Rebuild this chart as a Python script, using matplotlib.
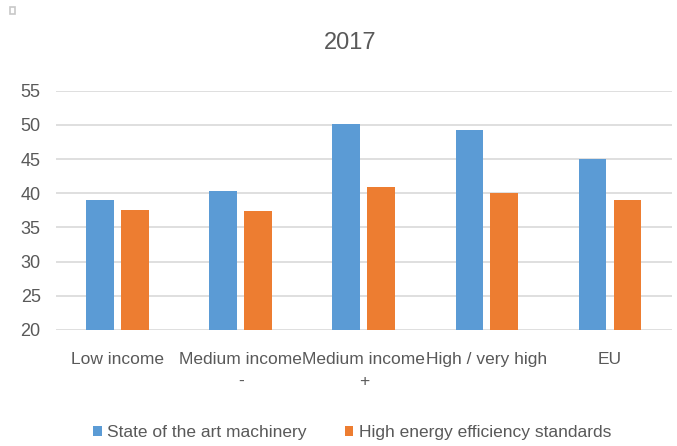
import numpy as np
from matplotlib import pyplot as plt
from matplotlib.patches import Rectangle

categories = ["Low income", "Medium income\n-", "Medium income\n+", "High / very high", "EU"]
state_of_art = [39.0, 40.4, 50.1, 49.3, 45.0]
energy_eff = [37.6, 37.4, 40.9, 40.0, 39.0]
series_names = ["State of the art machinery", "High energy efficiency standards"]
y_ticks = [20, 25, 30, 35, 40, 45, 50, 55]

BLUE = "#5B9BD5"
ORANGE = "#ED7D31"
TEXT = "#595959"
GRID = "#D9D9D9"

plt.rcParams['font.family'] = ['Liberation Sans', 'DejaVu Sans']


def main():
    fig = plt.figure(figsize=(6.77, 4.46), dpi=100)
    ax = fig.add_axes([56 / 677, 1 - 330 / 446, (671.5 - 56) / 677, (330 - 90.7) / 446])

    x = np.arange(len(categories))
    width = 0.225
    offset = 0.142
    ax.bar(x - offset, state_of_art, width, color=BLUE, label=series_names[0], zorder=3)
    ax.bar(x + offset, energy_eff, width, color=ORANGE, label=series_names[1], zorder=3)

    ax.set_xlim(-0.5, len(categories) - 0.5)
    ax.set_ylim(20, 55)
    ax.set_yticks(y_ticks)
    ax.set_xticks(x)
    ax.set_xticklabels(categories, linespacing=1.55)
    ax.yaxis.grid(True, color=GRID, linewidth=1.2, zorder=0)
    ax.set_axisbelow(True)
    for s in ax.spines.values():
        s.set_visible(False)
    ax.tick_params(axis='both', length=0, colors=TEXT)
    ax.tick_params(axis='x', pad=16, labelsize=12.5)
    ax.tick_params(axis='y', pad=11, labelsize=13)

    fig.text(350.5 / 677, 1 - 43.3 / 446, "2017", ha='center', va='center',
             fontsize=17, color=TEXT)

    leg = fig.legend(loc='center', bbox_to_anchor=(352 / 677, 1 - 432.7 / 446), ncol=2,
                     frameon=False, fontsize=12.5, handlelength=0.5, handleheight=0.5,
                     handletextpad=0.3, columnspacing=2.2, borderaxespad=0)
    for t in leg.get_texts():
        t.set_color(TEXT)

    # little frame handle in the top left corner
    fig.patches.append(Rectangle((10 / 677, 1 - 14 / 446), 5 / 677, 7 / 446,
                                 transform=fig.transFigure, fill=False,
                                 edgecolor="#C8C8C8", linewidth=1.2))

    fig.savefig("out.png", dpi=100)


if __name__ == '__main__':
    main()
